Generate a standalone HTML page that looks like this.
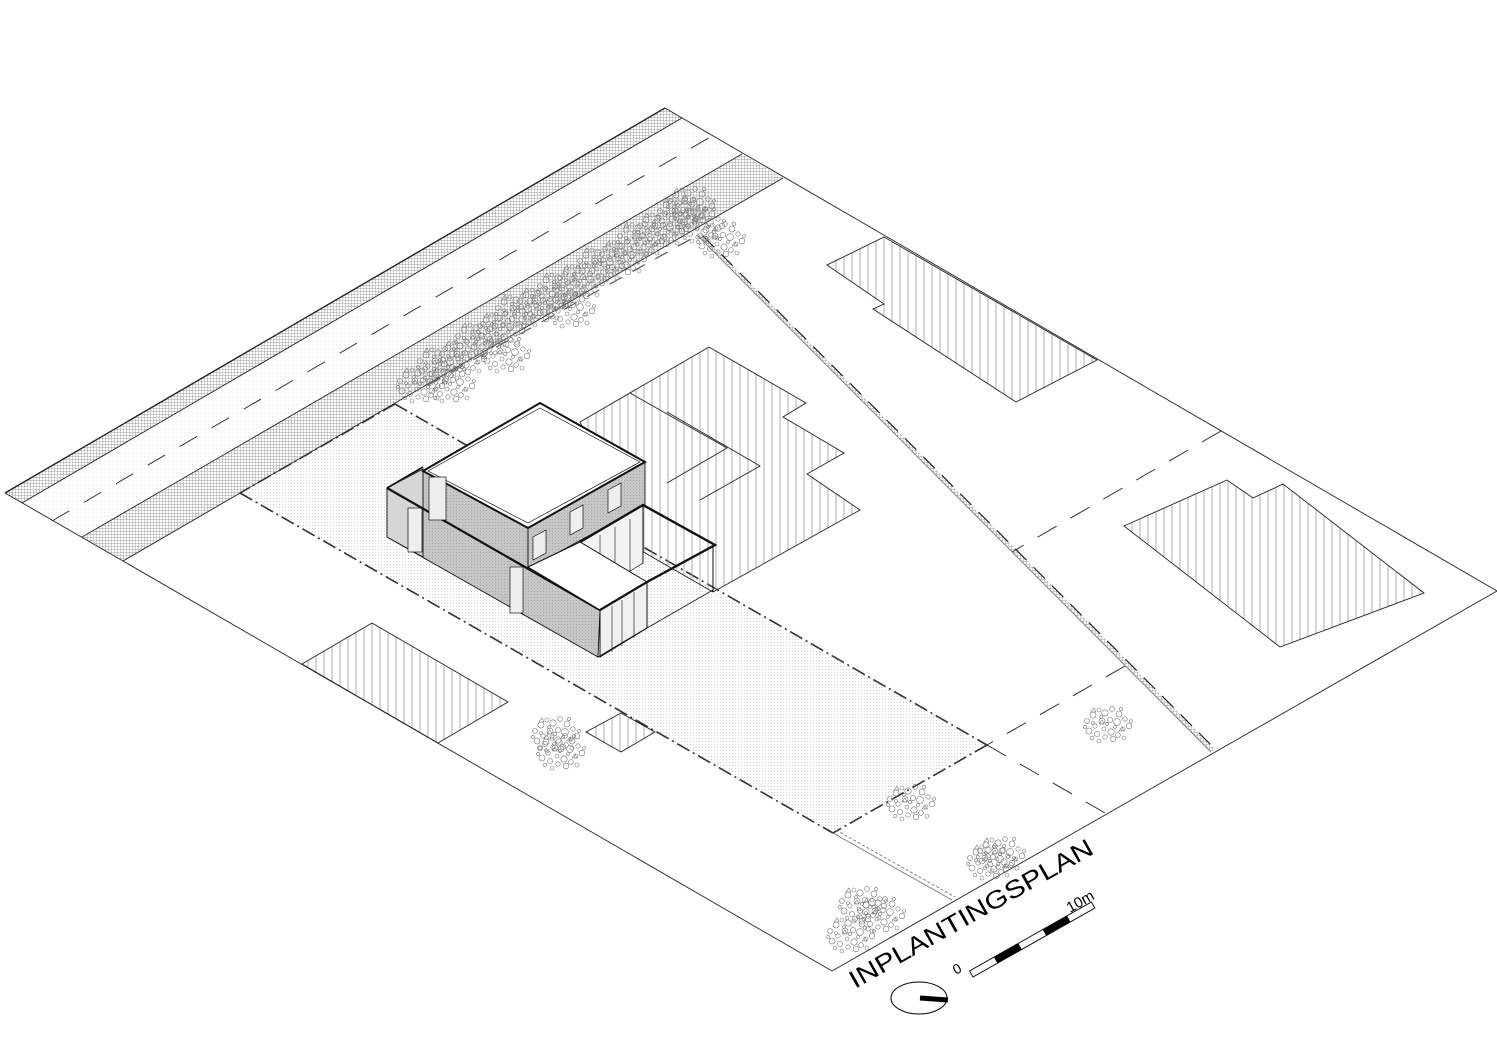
<!DOCTYPE html>
<html><head><meta charset="utf-8"><style>html,body{margin:0;padding:0;background:#fff}svg{display:block}</style></head>
<body>
<svg width="1497" height="1058" viewBox="0 0 1497 1058" xmlns="http://www.w3.org/2000/svg">
<defs>
<pattern id="ch" width="3" height="3" patternUnits="userSpaceOnUse"><path d="M0 0.5H3M0.5 0V3" stroke="#a0a0a0" stroke-width="0.5"/></pattern>
<pattern id="dots" width="3" height="3" patternUnits="userSpaceOnUse"><rect x="0" y="0" width="1" height="1" fill="#d0d0d0"/></pattern>
<pattern id="rd" width="4" height="4" patternUnits="userSpaceOnUse"><rect x="0" y="0" width="1" height="1" fill="#e6e6e6"/></pattern>
<pattern id="vh" width="8" height="8" patternUnits="userSpaceOnUse"><path d="M4 0V8" stroke="#9a9a9a" stroke-width="0.8"/></pattern>
<pattern id="wall" width="3" height="3" patternUnits="userSpaceOnUse"><rect width="3" height="3" fill="#c6c6c6"/><rect width="1" height="1" fill="#aaa"/></pattern>
<g id="tc" fill="none" stroke="#777" stroke-width="0.6">
<circle cx="-20" cy="-4" r="2.5"/><circle cx="-14" cy="-10" r="3"/><circle cx="-8" cy="-15" r="2"/><circle cx="-2" cy="-12" r="3.2"/><circle cx="5" cy="-16" r="2.4"/><circle cx="12" cy="-11" r="3"/><circle cx="18" cy="-6" r="2.2"/><circle cx="22" cy="1" r="2.8"/><circle cx="16" cy="4" r="2"/><circle cx="10" cy="-3" r="3.4"/><circle cx="3" cy="-5" r="2.6"/><circle cx="-5" cy="-4" r="3"/><circle cx="-12" cy="1" r="2.2"/><circle cx="-18" cy="6" r="3"/><circle cx="-10" cy="9" r="2.6"/><circle cx="-3" cy="4" r="2"/><circle cx="4" cy="7" r="3.2"/><circle cx="11" cy="10" r="2.4"/><circle cx="17" cy="13" r="2"/><circle cx="6" cy="14" r="2.8"/><circle cx="-2" cy="12" r="2.2"/><circle cx="-8" cy="16" r="2"/><circle cx="-15" cy="13" r="1.8"/><circle cx="0" cy="-1" r="1.6"/><circle cx="14" cy="-16" r="1.6"/><circle cx="-22" cy="2" r="1.6"/><circle cx="24" cy="-4" r="1.5"/><circle cx="-6" cy="-8" r="1.4"/><circle cx="8" cy="2" r="1.5"/><circle cx="-14" cy="-2" r="1.5"/>
<path d="M-8 -1 l3 -4 l2 4z M12 6 l3 -4 l2 4z M-16 -13 l3 -4 l2 4z"/>
</g>
</defs>
<g fill="none" stroke="#222" stroke-width="0.9">
<polygon points="5,493 665,108 682,118 22,503" fill="url(#ch)" stroke="none"/>
<polygon points="22,503 682,118 742,154 82,537" fill="url(#rd)" stroke="none"/>
<polygon points="82,537 742,154 783,178 123,561" fill="url(#ch)" stroke="none"/>
<line x1="5" y1="493" x2="665" y2="108" stroke-width="1.4"/>
<line x1="22" y1="503" x2="682" y2="118"/>
<line x1="82" y1="537" x2="742" y2="154"/>
<line x1="123" y1="561" x2="783" y2="178"/>
<line x1="52" y1="521" x2="712" y2="136" stroke-dasharray="20 17"/>
<polyline points="5,493 123,561 832,971 1497,591 665,108"/>
<polygon points="395,404 987,745 833,833 240,493" fill="url(#dots)" stroke="none"/>
<g stroke-dasharray="14 4 2 4" stroke="#333" stroke-width="1.6">
<line x1="395" y1="404" x2="987" y2="745"/>
<line x1="240" y1="493" x2="833" y2="833"/>
<line x1="395" y1="404" x2="240" y2="493"/>
<line x1="987" y1="745" x2="833" y2="833"/>
</g>
<line x1="1221" y1="431" x2="1012" y2="552" stroke-dasharray="22 16"/>
<line x1="1125" y1="666" x2="987" y2="745" stroke-dasharray="22 16"/>
<line x1="987" y1="745" x2="1105" y2="813" stroke-dasharray="22 16"/>
<polygon points="698,236 703,236 1216,750 1211,752" fill="url(#ch)" stroke="none"/>
<line x1="698" y1="236" x2="1211" y2="752" stroke="#777"/>
<line x1="703" y1="236" x2="1216" y2="750" stroke-dasharray="16 10" stroke-width="1.2"/>
<line x1="833" y1="833" x2="952" y2="900" stroke="#777"/>
<line x1="836" y1="830" x2="955" y2="897" stroke="#777" stroke-dasharray="3 2"/>
<line x1="428" y1="385" x2="700" y2="234" stroke="#555" stroke-width="1.2" stroke-dasharray="14 12"/>
<polygon points="827,265 884,304 873,309 1016,402 1097,360 884,237" fill="url(#vh)"/>
<polygon points="1124,526 1227,480 1253,498 1283,484 1424,593 1280,647" fill="url(#vh)"/>
<polygon points="302,664 372,623 508,702 438,743" fill="url(#vh)"/>
<polygon points="586,732 621,713 655,732 621,752" fill="url(#vh)"/>
<polygon points="580,422 709,347 806,403 783,417 844,453 807,474 860,510 713,592 640,550" fill="url(#vh)"/>
<polyline points="630,393 727,448 667,483"/>
<polyline points="667,412 760,466 700,500"/>
<g stroke="#111">
<polygon points="387,488 600,610 598,657 387,537" fill="url(#wall)"/>
<polygon points="387,488 423,469 423,557 387,537" fill="#d6d6d6"/>
<rect x="408" y="508" width="14" height="44" fill="#eee" stroke-width="0.7"/>
<polygon points="423,471 528,528 528,569 423,509" fill="url(#wall)"/>
<polygon points="528,528 645,462 645,505 528,569" fill="url(#wall)"/>
<polygon points="423,471 540,403 645,462 528,528" fill="#fff" stroke-width="2"/>
<polygon points="428,471 540,408 640,462 528,523" fill="none" stroke-width="0.7"/>
<line x1="387" y1="488" x2="600" y2="610" stroke-width="2.2"/>
<line x1="387" y1="488" x2="423" y2="467" stroke-width="1.6"/>
<rect x="429" y="477" width="17" height="43" fill="#eee" stroke-width="0.7"/>
<rect x="510" y="567" width="13" height="46" fill="#eee" stroke-width="0.7"/>
<polygon points="533,537 546,530 546,553 533,560" fill="#eee" stroke-width="0.7"/>
<polygon points="570,512 583,505 583,528 570,535" fill="#eee" stroke-width="0.7"/>
<polygon points="608,490 621,483 621,506 608,513" fill="#eee" stroke-width="0.7"/>
<polygon points="580,542 643,505 643,563 600,590" fill="#f2f2f2" stroke-width="0.7"/>
<line x1="600" y1="535" x2="600" y2="590" stroke-width="0.6"/><line x1="615" y1="527" x2="615" y2="582" stroke-width="0.6"/><line x1="630" y1="519" x2="630" y2="574" stroke-width="0.6"/>
<polygon points="528,567 580,542 647,582 600,610" fill="#fff" stroke-width="1"/>
<polygon points="600,610 647,582 647,628 600,657" fill="#f0f0f0" stroke-width="1"/>
<line x1="612" y1="606" x2="612" y2="652" stroke-width="0.6"/><line x1="622" y1="600" x2="622" y2="646" stroke-width="0.6"/><line x1="634" y1="592" x2="634" y2="638" stroke-width="0.6"/>
<line x1="600" y1="610" x2="647" y2="582" stroke-width="2.2"/>
<polyline points="580,542 643,505 715,545 647,582" stroke-width="2.4" fill="none"/>
<line x1="713" y1="547" x2="713" y2="592" stroke-width="1"/>
<line x1="643" y1="505" x2="643" y2="563" stroke-width="1"/>
<line x1="598" y1="657" x2="647" y2="628" stroke-width="1"/>
<line x1="647" y1="628" x2="713" y2="590" stroke-width="0.8"/>
</g>
</g>
<g>
<use href="#tc" x="420" y="385"/><use href="#tc" x="440" y="365"/><use href="#tc" x="462" y="358"/><use href="#tc" x="478" y="340"/>
<use href="#tc" x="500" y="330"/><use href="#tc" x="518" y="312"/><use href="#tc" x="540" y="305"/><use href="#tc" x="560" y="290"/>
<use href="#tc" x="580" y="282"/><use href="#tc" x="600" y="265"/><use href="#tc" x="622" y="258"/><use href="#tc" x="640" y="240"/>
<use href="#tc" x="660" y="230"/><use href="#tc" x="680" y="215"/><use href="#tc" x="700" y="225"/><use href="#tc" x="690" y="205"/>
<use href="#tc" x="720" y="240"/><use href="#tc" x="450" y="385"/><use href="#tc" x="505" y="355"/><use href="#tc" x="570" y="310"/>
<use href="#tc" x="555" y="735"/><use href="#tc" x="560" y="752"/>
<use href="#tc" x="910" y="803"/><use href="#tc" x="1107" y="725"/>
<use href="#tc" x="850" y="935"/><use href="#tc" x="880" y="915"/><use href="#tc" x="862" y="905"/>
<use href="#tc" x="990" y="862"/><use href="#tc" x="1000" y="855"/>
</g>
<text transform="translate(855,989) rotate(-29.5)" font-family="Liberation Sans, sans-serif" font-size="25" textLength="276" lengthAdjust="spacingAndGlyphs" fill="#000">INPLANTINGSPLAN</text>
<text transform="translate(956,975) rotate(-29.5)" font-family="Liberation Sans, sans-serif" font-size="14" fill="#000">0</text>
<text transform="translate(1070,913) rotate(-29.5)" font-family="Liberation Sans, sans-serif" font-size="15" fill="#000">10m</text>
<g transform="translate(973,977) rotate(-29.5)">
<rect x="0" y="-7" width="140" height="7" fill="#fff" stroke="#000" stroke-width="0.9"/>
<rect x="28" y="-7" width="28" height="7" fill="#000"/>
<rect x="84" y="-7" width="28" height="7" fill="#000"/>
</g>
<ellipse cx="919" cy="998" rx="28" ry="16" fill="none" stroke="#000" stroke-width="1"/>
<line x1="920" y1="998" x2="948" y2="1000" stroke="#000" stroke-width="5"/>
</svg>
</body></html>
